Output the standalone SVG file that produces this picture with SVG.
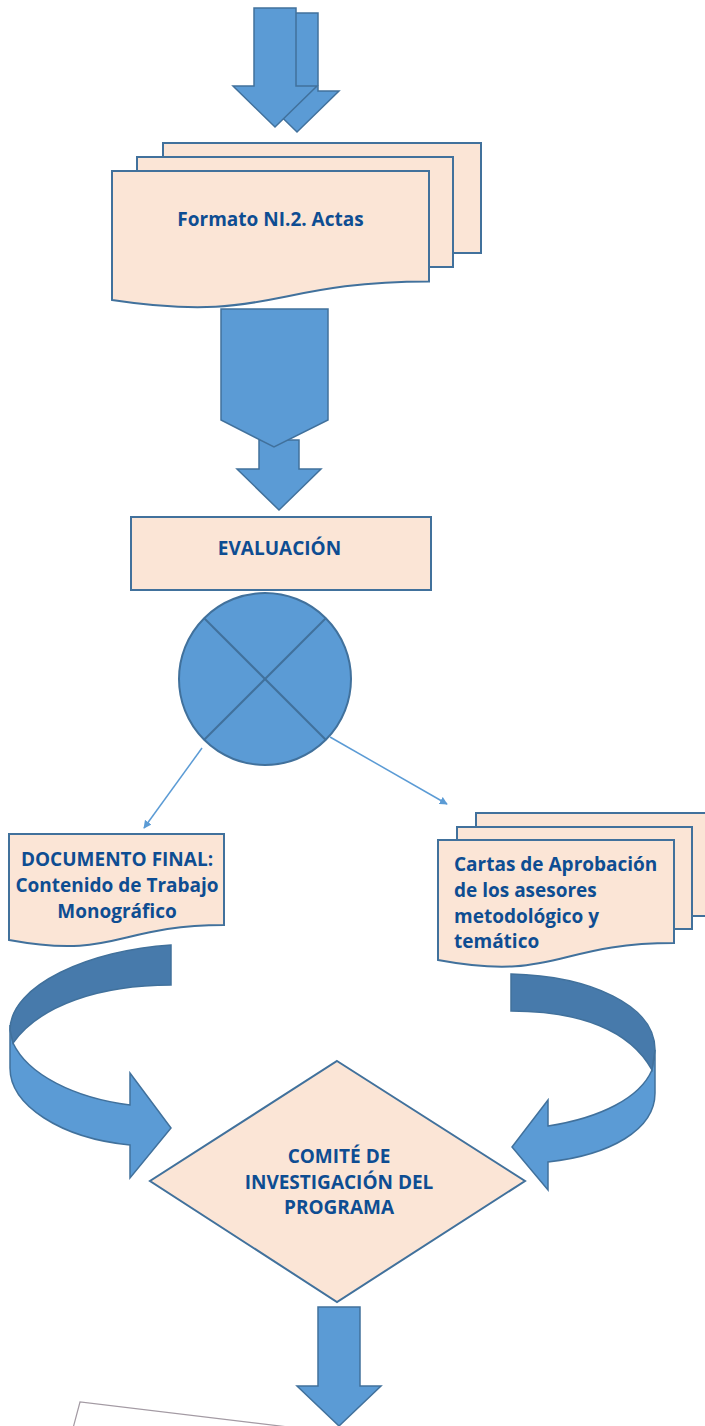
<svg xmlns="http://www.w3.org/2000/svg" width="705" height="1426" viewBox="0 0 705 1426">
<style>
.blk{fill:#5B9BD5;stroke:#41719C;stroke-width:1.5;stroke-linejoin:miter}
.dark{fill:#477AAB;stroke:#41719C;stroke-width:1.5}
.doc{fill:#FBE5D6;stroke:#41719C;stroke-width:2}
.lbl{font-family:"Open Sans",Lato,"Liberation Sans",sans-serif;font-weight:bold;font-size:19px;fill:#0E4D92}
.c{text-anchor:middle}
.con{stroke:#5B9BD5;stroke-width:1.5;fill:none}
</style>
<defs>
<marker id="ah" viewBox="0 0 10 10" refX="9" refY="5" markerWidth="8" markerHeight="8" markerUnits="userSpaceOnUse" orient="auto">
<path d="M0,0 L10,5 L0,10 Z" fill="#5B9BD5"/>
</marker>
</defs>
<rect width="705" height="1426" fill="#FFFFFF"/>

<g id="top-arrows">
<path class="blk" d="M276,13 H318 V91 H339 L297,132 L255,91 H276 Z"/>
<path class="blk" d="M254,8 H296 V86 H317 L275,127 L233,86 H254 Z"/>
</g>

<g id="formato">
<rect class="doc" x="163" y="143" width="318" height="110"/>
<rect class="doc" x="137" y="157" width="316" height="110"/>
<path class="doc" d="M112,171 H429 V281.5 C270,281.5 270,324 112,300 Z"/>
<text class="lbl c" x="270.5" y="226" font-size="20.2">Formato NI.2. Actas</text>
</g>

<g id="big-arrow">
<path class="blk" d="M259,440 H299 V469 H321 L279,510 L237,469 H259 Z"/>
<path class="blk" d="M221,309 H328 V420 L274,447 L221,420 Z"/>
</g>

<g id="evaluacion">
<rect class="doc" x="131" y="517" width="300" height="73"/>
<text class="lbl c" x="279.5" y="555" font-size="20.8">EVALUACIÓN</text>
</g>

<g id="sumador">
<circle cx="265" cy="679" r="86" fill="#5B9BD5" stroke="#41719C" stroke-width="2"/>
<line x1="204" y1="618" x2="326" y2="740" stroke="#41719C" stroke-width="2"/>
<line x1="326" y1="618" x2="204" y2="740" stroke="#41719C" stroke-width="2"/>
</g>

<g id="connectors">
<line class="con" x1="202" y1="748" x2="144" y2="828" marker-end="url(#ah)"/>
<line class="con" x1="330" y1="737" x2="447" y2="804" marker-end="url(#ah)"/>
</g>

<g id="documento-final">
<path class="doc" d="M9,834 H224 V925 C116.5,925 116.5,959.7 9,940 Z"/>
<text class="lbl c" x="117" y="866">DOCUMENTO FINAL:</text>
<text class="lbl c" x="117" y="892">Contenido de Trabajo</text>
<text class="lbl c" x="117" y="918">Monográfico</text>
</g>

<g id="cartas">
<rect class="doc" x="476" y="813" width="250" height="103"/>
<rect class="doc" x="457" y="827" width="235" height="102"/>
<path class="doc" d="M438,840 H674 V943 C556,943 556,982 438,960 Z"/>
<text class="lbl" x="454" y="871">Cartas de Aprobación</text>
<text class="lbl" x="454" y="897">de los asesores</text>
<text class="lbl" x="454" y="923">metodológico y</text>
<text class="lbl" x="454" y="948">temático</text>
</g>

<g id="curved-left">
<path class="blk" d="M10,1025 L10,1068 C10,1105 60,1138 130,1145 L130,1178 L171,1128 L130,1073 L130,1105 C75,1098 28,1075 13,1043 Z"/>
<path class="dark" d="M171,945 C90,950 10,985 10,1030 L13,1043 C40,1005 100,985 171,985 Z"/>
</g>

<g id="curved-right">
<path class="blk" d="M655,1050 L655,1093 C655,1130 610,1155 548,1162 L548,1190 L512,1147 L548,1100 L548,1126 C600,1118 640,1098 652,1070 Z"/>
<path class="dark" d="M511,974 C590,976 655,1005 655,1050 L652,1070 C630,1030 580,1011 511,1011 Z"/>
</g>

<g id="comite">
<path class="doc" stroke-width="1.5" d="M337,1061 L525,1181 L337,1302 L150,1181 Z"/>
<text class="lbl c" x="339" y="1163" font-size="20">COMITÉ DE</text>
<text class="lbl c" x="339" y="1189" font-size="20">INVESTIGACIÓN DEL</text>
<text class="lbl c" x="339" y="1214" font-size="20">PROGRAMA</text>
</g>

<g id="bottom-arrow">
<path class="blk" d="M318,1307 H360 V1386 H381 L339,1426 L297,1386 H318 Z"/>
</g>

<g id="bottom-box">
<path d="M72,1432 L80,1402 L330,1432" fill="none" stroke="#A39AA3" stroke-width="1.2"/>
</g>
</svg>
